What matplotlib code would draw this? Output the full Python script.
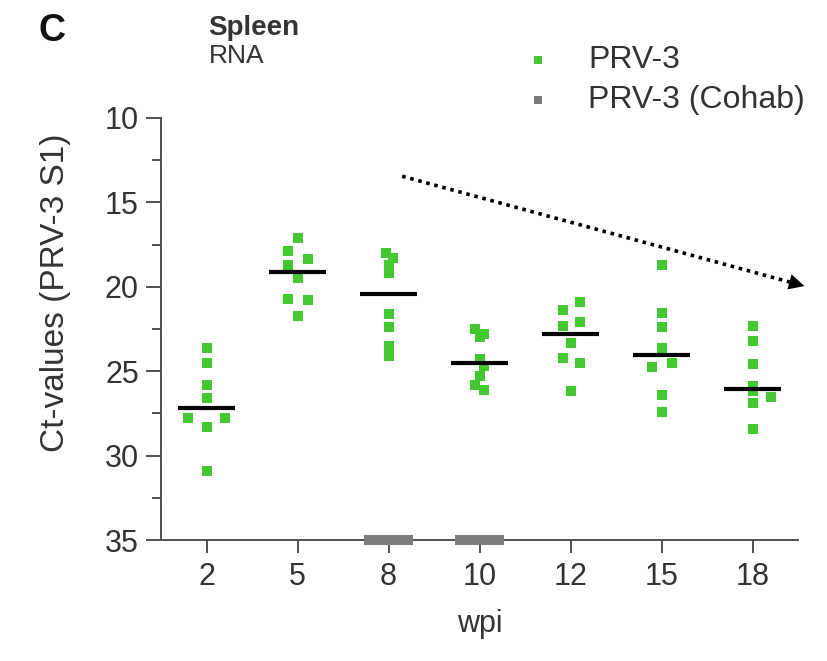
#!/usr/bin/env python3
# -*- coding: utf-8 -*-
"""Spleen RNA Ct-values (PRV-3 S1) per wpi, scatter + median."""
import numpy as np
import matplotlib
matplotlib.use("Agg")
import matplotlib.pyplot as plt
from matplotlib.lines import Line2D

plt.rcParams["font.family"] = ["Liberation Sans", "DejaVu Sans"]

# Daten
wpi = ["2", "5", "8", "10", "12", "15", "18"]

ct_2 = [23.6, 24.5, 25.8, 26.6, 27.8, 27.8, 28.3, 30.9]
ct_5 = [17.1, 17.9, 18.35, 18.7, 19.5, 20.7, 20.8, 21.7]
ct_8 = [18.0, 18.3, 18.7, 19.2, 21.6, 22.4, 23.5, 24.1]
ct_10 = [22.5, 22.8, 23.0, 24.3, 24.7, 25.3, 25.8, 26.1]
ct_12 = [20.9, 21.4, 22.1, 22.3, 23.3, 24.2, 24.5, 26.2]
ct_15 = [18.7, 21.55, 22.4, 23.6, 24.5, 24.75, 26.4, 27.4]
ct_18 = [22.3, 23.2, 24.6, 25.9, 26.2, 26.5, 26.9, 28.4]

# Cohab: nicht detektiert (= 35) bei 8 und 10 wpi
cohab_wpi = ["8", "10"]
ct_cohab_8 = [35, 35, 35, 35, 35, 35, 35, 35]
ct_cohab_10 = [35, 35, 35, 35, 35, 35, 35, 35]

# Streuung (x-Versatz) der Punkte wie im Original
jit_2 = [0, 0, 0, 0, -0.2, 0.2, 0, 0]
jit_5 = [0, -0.1, 0.12, -0.1, 0, -0.1, 0.12, 0]
jit_8 = [-0.03, 0.05, 0, 0, 0, 0, 0, 0]
jit_10 = [-0.05, 0.05, 0, 0, 0.05, 0, -0.05, 0.05]
jit_12 = [0.1, -0.08, 0.1, -0.08, 0, -0.08, 0.1, 0]
jit_15 = [0, 0, 0, 0, 0.11, -0.11, 0, 0]
jit_18 = [0, 0, 0, 0, 0, 0.2, 0, 0]
jit_cohab = [-0.21, -0.15, -0.09, -0.03, 0.03, 0.09, 0.15, 0.21]

groups = [ct_2, ct_5, ct_8, ct_10, ct_12, ct_15, ct_18]
jitters = [jit_2, jit_5, jit_8, jit_10, jit_12, jit_15, jit_18]

GREEN = "#44c832"
GREY = "#7c7c7c"
AXC = "#505050"
TXT = "#333333"
FS = 22

fig = plt.figure(figsize=(8.27, 6.61), dpi=100)
ax = fig.add_axes([0.1947, 0.183, 0.7703, 0.6385])

for i, (vals, jit) in enumerate(zip(groups, jitters)):
    xs = i + np.array(jit)
    ax.plot(xs, vals, "s", color=GREEN, ms=7.5, mew=0, zorder=3)
    med = np.median(vals)
    ax.plot([i - 0.31, i + 0.31], [med, med], color="black", lw=3,
            solid_capstyle="butt", zorder=4)

for w, vals in zip(cohab_wpi, [ct_cohab_8, ct_cohab_10]):
    i = wpi.index(w)
    ax.plot(i + np.array(jit_cohab), vals, "s", color=GREY, ms=7, mew=0,
            zorder=5, clip_on=False)

# Trendpfeil (gepunktet)
x0, y0, x1, y1 = 2.15, 13.45, 6.6, 20.0
ax.plot([x0, x1 - 0.17], [y0, y1 - 0.25], ls=(0, (1, 1.3)), color="black",
        lw=2.6, clip_on=False)
ax.annotate("", xy=(x1, y1), xytext=(x1 - 0.2, y1 - 0.3),
            arrowprops=dict(arrowstyle="-|>", color="black", lw=0,
                            mutation_scale=28), annotation_clip=False)

ax.set_xlim(-0.5, 6.5)
ax.set_ylim(35, 10)
ax.set_xticks(range(len(wpi)))
ax.set_xticklabels(wpi)
ax.set_yticks([10, 15, 20, 25, 30, 35])
ax.set_yticks(np.arange(12.5, 35, 5), minor=True)

for s in ["top", "right"]:
    ax.spines[s].set_visible(False)
for s in ["left", "bottom"]:
    ax.spines[s].set_color(AXC)
    ax.spines[s].set_linewidth(1.4)

ax.tick_params(axis="y", which="major", length=11, width=1.4, color=AXC,
               labelsize=FS, labelcolor=TXT, pad=5)
ax.tick_params(axis="y", which="minor", length=6.5, width=1.4, color=AXC)
ax.tick_params(axis="x", length=9, width=1.4, color=AXC, labelsize=FS,
               labelcolor=TXT, pad=7)

ax.set_ylabel("Ct-values (PRV-3 S1)", fontsize=24, color=TXT)
ax.yaxis.set_label_coords(-0.142, 0.585)
ax.set_xlabel("wpi", fontsize=FS, color=TXT, labelpad=12)

fig.text(0.046, 0.953, "C", fontsize=27, fontweight="bold", color="#111111",
         va="center", ha="left")
fig.text(0.252, 0.957, "Spleen", fontsize=20, fontweight="bold", color=TXT,
         va="center", ha="left")
fig.text(0.252, 0.915, "RNA", fontsize=19, color=TXT, va="center", ha="left")

# Legende (manuell platziert)
legend_items = [("PRV-3", GREEN), ("PRV-3 (Cohab)", GREY)]
for k, (lab, col) in enumerate(legend_items):
    yy = 1 - (60 + 40 * k) / 661
    fig.add_artist(Line2D([538 / 827], [yy], ls="", marker="s", color=col,
                          ms=6, mew=0, transform=fig.transFigure))
    fig.text(588 / 827, yy, lab, fontsize=23, color=TXT, va="center",
             ha="left")

fig.savefig("out.png", dpi=100)
